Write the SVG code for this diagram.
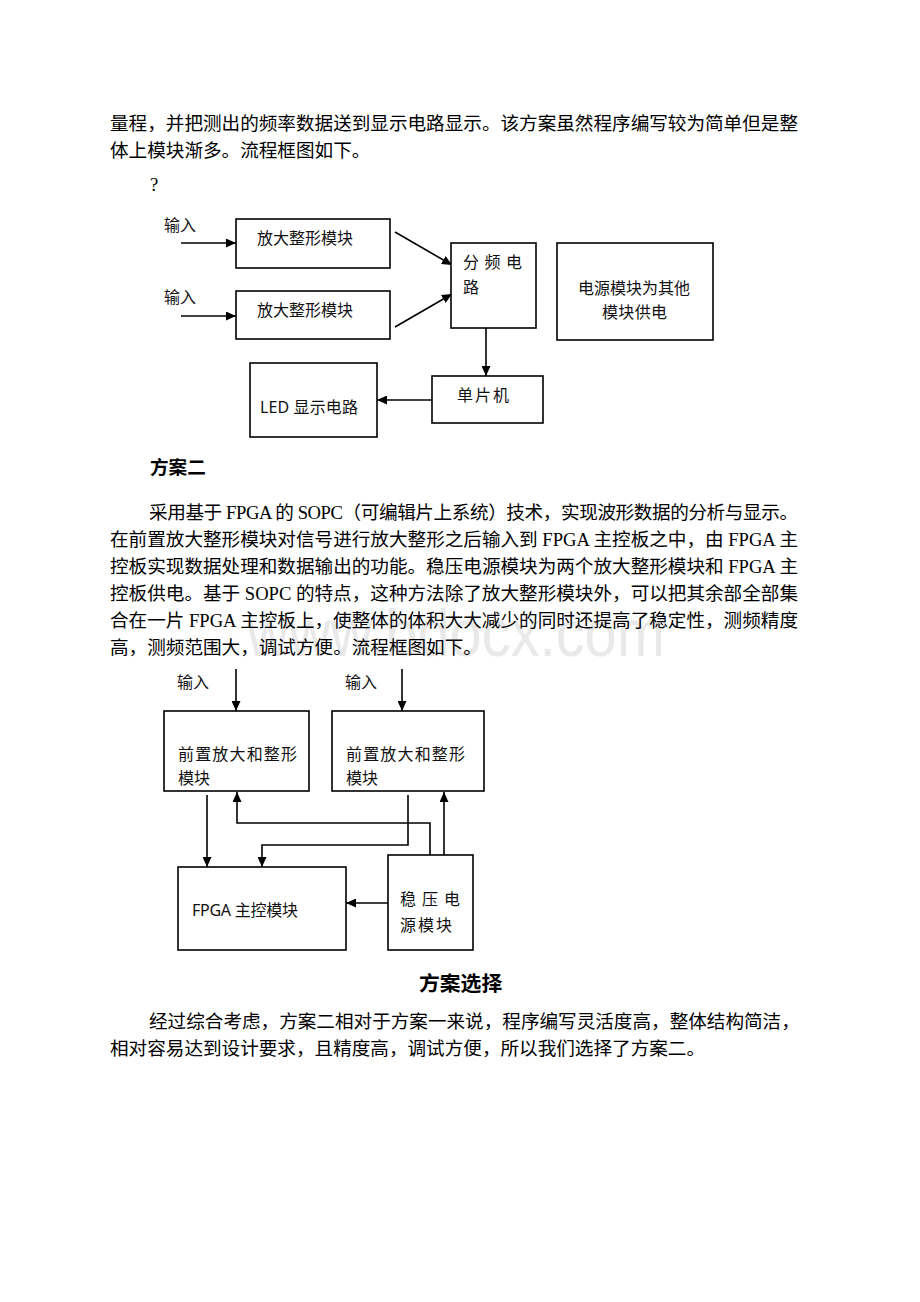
<svg xmlns="http://www.w3.org/2000/svg" width="920" height="1302" viewBox="0 0 920 1302">
<style>
.body{font-family:"Liberation Serif","Noto Sans CJK SC",serif;font-size:18.6px;fill:#000}
.head{font-family:"Noto Sans CJK SC",sans-serif;font-weight:bold;fill:#000}
.lbl{font-family:"Noto Sans","Noto Sans CJK SC",sans-serif;font-size:16px;fill:#111}
.box{fill:#fff;stroke:#000;stroke-width:1.6}
.wire{fill:none;stroke:#000;stroke-width:1.6}
.wm{font-family:"Liberation Sans",sans-serif;font-size:66px;fill:#e9e9e9}
</style>
<defs>
<marker id="ah" markerUnits="userSpaceOnUse" markerWidth="11" markerHeight="9" refX="10" refY="4.5" orient="auto">
<path d="M0,0 L10,4.5 L0,9 z" fill="#000"/>
</marker>
</defs>
<rect width="920" height="1302" fill="#fff"/>
<text class="wm" x="247" y="656" textLength="418" lengthAdjust="spacingAndGlyphs">www.bdocx.com</text>

<g id="text-top">
<text class="body" x="110" y="130" textLength="688">量程，并把测出的频率数据送到显示电路显示。该方案虽然程序编写较为简单但是整</text>
<text class="body" x="110" y="157">体上模块渐多。流程框图如下。</text>
<text class="body" x="150" y="191">?</text>
</g>

<g id="diagram1">
<g id="connectors1">
<path class="wire" d="M181,243 L236,243" marker-end="url(#ah)"/>
<path class="wire" d="M181,316 L236,316" marker-end="url(#ah)"/>
<path class="wire" d="M395,232 L452,265" marker-end="url(#ah)"/>
<path class="wire" d="M395,327 L452,294" marker-end="url(#ah)"/>
<path class="wire" d="M486,328 L486,376" marker-end="url(#ah)"/>
<path class="wire" d="M432,400 L377,400" marker-end="url(#ah)"/>
</g>
<g id="in1"><text class="lbl" x="164" y="231">输入</text></g>
<g id="in2"><text class="lbl" x="164" y="303">输入</text></g>
<g id="amp1"><rect class="box" x="236" y="219" width="154" height="49"/><text class="lbl" x="257" y="244">放大整形模块</text></g>
<g id="amp2"><rect class="box" x="236" y="291" width="154" height="48"/><text class="lbl" x="257" y="316">放大整形模块</text></g>
<g id="divider"><rect class="box" x="451" y="243" width="85" height="85"/><text class="lbl" x="463" y="268" textLength="59">分 频 电</text><text class="lbl" x="463" y="293">路</text></g>
<g id="power1"><rect class="box" x="557" y="243" width="156" height="97"/><text class="lbl" x="578" y="294" textLength="112">电源模块为其他</text><text class="lbl" x="602" y="318" textLength="65">模块供电</text></g>
<g id="mcu"><rect class="box" x="432" y="376" width="111" height="47"/><text class="lbl" x="457" y="401" textLength="52">单片机</text></g>
<g id="led"><rect class="box" x="250" y="363" width="127" height="74"/><text class="lbl" x="260" y="413" textLength="98">LED 显示电路</text></g>
</g>

<g id="text-mid">
<text class="head" x="150" y="474" font-size="18.6">方案二</text>
<text class="body" x="149" y="519" textLength="649">采用基于 FPGA 的 SOPC（可编辑片上系统）技术，实现波形数据的分析与显示。</text>
<text class="body" x="110" y="546" textLength="688">在前置放大整形模块对信号进行放大整形之后输入到 FPGA 主控板之中，由 FPGA 主</text>
<text class="body" x="110" y="573" textLength="688">控板实现数据处理和数据输出的功能。稳压电源模块为两个放大整形模块和 FPGA 主</text>
<text class="body" x="110" y="600" textLength="688">控板供电。基于 SOPC 的特点，这种方法除了放大整形模块外，可以把其余部全部集</text>
<text class="body" x="110" y="627" textLength="688">合在一片 FPGA 主控板上，使整体的体积大大减少的同时还提高了稳定性，测频精度</text>
<text class="body" x="110" y="654">高，测频范围大，调试方便。流程框图如下。</text>
</g>

<g id="diagram2">
<g id="connectors2">
<path class="wire" d="M236,669 L236,711" marker-end="url(#ah)"/>
<path class="wire" d="M402,669 L402,711" marker-end="url(#ah)"/>
<path class="wire" d="M207,795 L207,867" marker-end="url(#ah)"/>
<path class="wire" d="M430,855 L430,823 L237,823 L237,792" marker-end="url(#ah)"/>
<path class="wire" d="M408,795 L408,845 L262,845 L262,867" marker-end="url(#ah)"/>
<path class="wire" d="M444,855 L444,792" marker-end="url(#ah)"/>
<path class="wire" d="M388,903 L346,903" marker-end="url(#ah)"/>
</g>
<g id="in3"><text class="lbl" x="177" y="688">输入</text></g>
<g id="in4"><text class="lbl" x="345" y="688">输入</text></g>
<g id="pre1"><rect class="box" x="164" y="711" width="145" height="80"/><text class="lbl" x="178" y="760" textLength="119">前置放大和整形</text><text class="lbl" x="178" y="784">模块</text></g>
<g id="pre2"><rect class="box" x="332" y="711" width="152" height="80"/><text class="lbl" x="346" y="760" textLength="119">前置放大和整形</text><text class="lbl" x="346" y="784">模块</text></g>
<g id="fpga"><rect class="box" x="178" y="867" width="168" height="83"/><text class="lbl" x="192" y="916" textLength="106">FPGA 主控模块</text></g>
<g id="psu"><rect class="box" x="388" y="855" width="85" height="95"/><text class="lbl" x="400" y="905" textLength="60">稳 压 电</text><text class="lbl" x="400" y="931" textLength="52">源模块</text></g>
</g>

<g id="text-bottom">
<text class="head" x="419" y="991" font-size="20.8">方案选择</text>
<text class="body" x="149" y="1028">经过综合考虑，方案二相对于方案一来说，程序编写灵活度高，整体结构简洁，</text>
<text class="body" x="110" y="1055">相对容易达到设计要求，且精度高，调试方便，所以我们选择了方案二。</text>
</g>
</svg>
